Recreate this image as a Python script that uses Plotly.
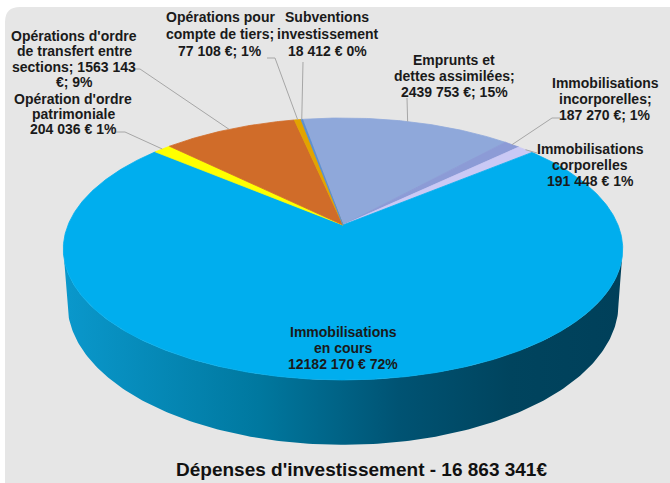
import numpy as np
import plotly.graph_objects as go

# ---------------- data ----------------
categories = [
    "Emprunts et dettes assimilées",
    "Immobilisations incorporelles",
    "Immobilisations corporelles",
    "Immobilisations en cours",
    "Opération d'ordre patrimoniale",
    "Opérations d'ordre de transfert entre sections",
    "Opérations pour compte de tiers",
    "Subventions investissement",
]
values = [2439753, 187270, 191448, 12182170, 204036, 1563143, 77108, 18412]
label_texts = [
    ["Emprunts et", "dettes assimilées;", "2439 753 €; 15%"],
    ["Immobilisations", "incorporelles;", "187 270 €; 1%"],
    ["Immobilisations", "corporelles", "191 448 € 1%"],
    ["Immobilisations", "en cours", "12182 170 € 72%"],
    ["Opération d'ordre", "patrimoniale", "204 036 € 1%"],
    ["Opérations d'ordre", "de transfert entre", "sections; 1563 143", "€; 9%"],
    ["Opérations pour", "compte de tiers;", "77 108 €; 1%"],
    ["Subventions", "investissement", "18 412 € 0%"],
]
title_text = "Dépenses d'investissement - 16 863 341€"

# ---------------- style ----------------
colors = ["#8FA8DA", "#8C9BD6", "#CAC9F5", "#00AEEE", "#FFFF00", "#D06C29", "#E2A400", "#5B8FD0"]
label_pos = [(454, 76), (605, 99), (590, 165), (343, 348), (73, 114), (74, 59), (220, 34), (327, 34)]
label_line = [16, 16, 16, 16, 15, 15.5, 17, 17]
leader_anchor = [
    [(407, 98)],
    [(560, 118), (552, 118)],
    [(537, 153)],
    [],
    [(115, 132), (125, 132)],
    [(133, 69), (140, 69)],
    [(267, 58), (275, 58)],
    [(303, 62)],
]
side_scale = [[0, "#0A98CC"], [0.35, "#00789F"], [0.6, "#005373"], [0.8, "#00445E"], [1, "#00405A"]]

W, H = 670, 483
CX, CY = 343, 225      # pie apex on screen
A, B = 275, 126.6      # projected radii
K = 0.183              # perspective factor
DEPTH = 53             # thickness
START = -10            # first slice angle (deg, clockwise from 12 o'clock)


def proj(phi_deg, bottom=False):
    p = np.radians(phi_deg)
    u, v = np.sin(p), np.cos(p)
    d = 1 + K * v
    x = CX + A * u / d
    y = CY - B * v / d
    if bottom:
        x = CX + (x - CX) * 0.985
        y = y + DEPTH / d
    return x, y


total = float(sum(values))
fracs = [v / total for v in values]
bounds = START + 360 * np.concatenate([[0], np.cumsum(fracs)])

fig = go.Figure()

# side (front visible part)
phi_r = np.degrees(np.arccos(-K))
phi_l = 360 - phi_r
for i in range(len(values)):
    a0, a1 = bounds[i] % 360, bounds[i] % 360 + (bounds[i + 1] - bounds[i])
    s0, s1 = max(a0, phi_r), min(a1, phi_l)
    if s1 <= s0:
        continue
    ph = np.linspace(s0, s1, 200)
    xt, yt = proj(ph)
    xb, yb = proj(ph[::-1], bottom=True)
    fig.add_trace(go.Scatter(
        x=np.concatenate([xt, xb]), y=np.concatenate([yt, yb]),
        mode="lines", fill="toself", line=dict(width=0),
        fillgradient=dict(type="horizontal", colorscale=side_scale),
        hoverinfo="skip", showlegend=False))

# top faces
for i in range(len(values)):
    a0, a1 = bounds[i], bounds[i + 1]
    n = max(3, int((a1 - a0) * 2) + 2)
    ph = np.linspace(a0, a1, n)
    xs, ys = proj(ph)
    fig.add_trace(go.Scatter(
        x=np.concatenate([[CX], xs, [CX]]), y=np.concatenate([[CY], ys, [CY]]),
        mode="lines", fill="toself", fillcolor=colors[i],
        line=dict(color=colors[i], width=0.8),
        hoverinfo="skip", showlegend=False, name=categories[i]))

# leader lines
for i in range(len(values)):
    if not leader_anchor[i]:
        continue
    mid = (bounds[i] + bounds[i + 1]) / 2
    ex, ey = proj(mid)
    pts = leader_anchor[i] + [(ex, ey)]
    fig.add_trace(go.Scatter(
        x=[p[0] for p in pts], y=[p[1] for p in pts], mode="lines",
        line=dict(color="#A6A6A6", width=1), hoverinfo="skip", showlegend=False))

# labels
FONT = "Liberation Sans, Arial, sans-serif"
for i, lines in enumerate(label_texts):
    cx, cy = label_pos[i]
    n = len(lines)
    for j, t in enumerate(lines):
        fig.add_annotation(
            x=cx, y=cy + (j - (n - 1) / 2) * label_line[i], xref="x", yref="y",
            text="<b>" + t + "</b>", showarrow=False,
            xanchor="center", yanchor="middle",
            font=dict(family=FONT, size=14, color="#1A1A1A"))

fig.add_annotation(
    x=361, y=469, xref="x", yref="y", text="<b>" + title_text + "</b>",
    showarrow=False, xanchor="center", yanchor="middle",
    font=dict(family=FONT, size=19, color="#111111"))

fig.update_layout(
    width=W, height=H, autosize=False,
    margin=dict(l=0, r=0, t=0, b=0),
    paper_bgcolor="white", plot_bgcolor="rgba(0,0,0,0)",
    xaxis=dict(range=[0, W], visible=False, fixedrange=True),
    yaxis=dict(range=[H, 0], visible=False, fixedrange=True),
    shapes=[dict(type="path", xref="x", yref="y", layer="below",
                 path="M 5,22 Q 5,7 20,7 L 670,7 L 670,483 L 5,483 Z",
                 fillcolor="#E6E6E6", line=dict(width=0))],
)

fig.write_html("out.html", config={"displayModeBar": False},
               post_script="document.body.style.margin='0';document.body.style.overflow='hidden';")
